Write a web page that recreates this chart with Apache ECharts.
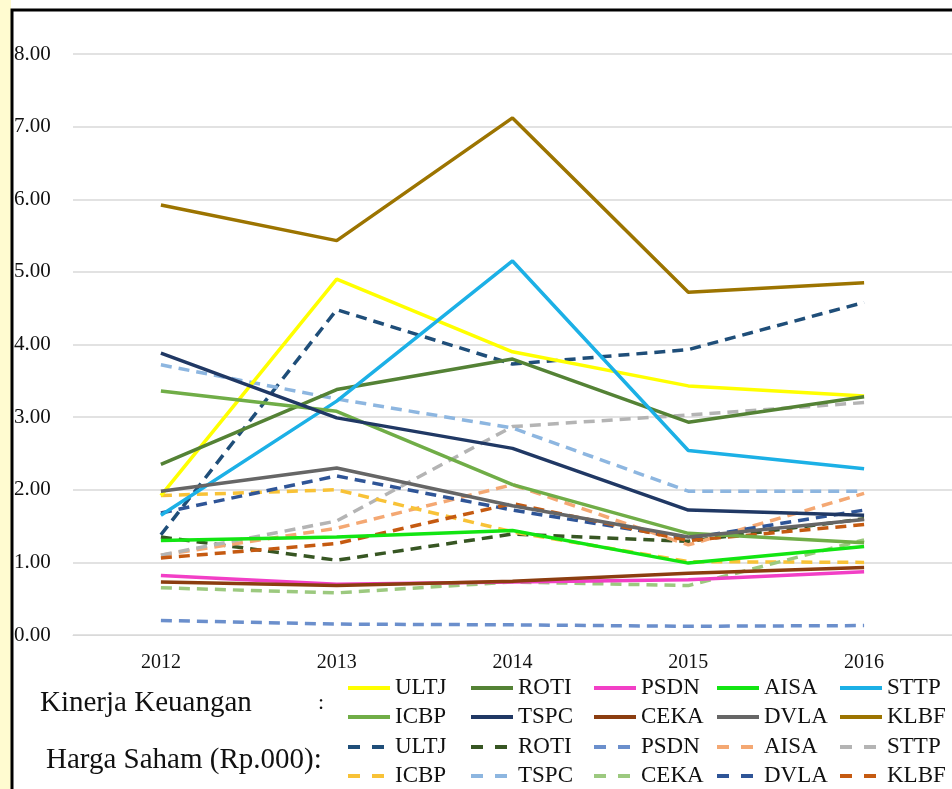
<!DOCTYPE html>
<html>
<head>
<meta charset="UTF-8">
<title>Kinerja Keuangan dan Harga Saham</title>
<script type="text/javascript" src="https://cdn.jsdelivr.net/npm/echarts@6/dist/echarts.min.js"></script>
<style>
  html, body { margin: 0; padding: 0; background: #fff; }
</style>
</head>
<body>
	<div id="box" style="width:952px;height:789px;"></div>
	<script type="text/javascript">
		// tahun
		var years = ['2012', '2013', '2014', '2015', '2016'];
		var companies = ['ULTJ', 'ROTI', 'PSDN', 'AISA', 'STTP', 'ICBP', 'TSPC', 'CEKA', 'DVLA', 'KLBF'];

		// Kinerja Keuangan (garis penuh)
		var kinerja = {
			ULTJ: [1.92, 4.90, 3.90, 3.43, 3.29],
			ROTI: [2.35, 3.38, 3.80, 2.93, 3.28],
			PSDN: [0.82, 0.70, 0.73, 0.76, 0.87],
			AISA: [1.30, 1.35, 1.44, 0.99, 1.22],
			STTP: [1.65, 3.22, 5.15, 2.54, 2.29],
			ICBP: [3.36, 3.08, 2.07, 1.40, 1.27],
			TSPC: [3.88, 2.99, 2.57, 1.72, 1.65],
			CEKA: [0.73, 0.68, 0.74, 0.85, 0.93],
			DVLA: [1.98, 2.30, 1.78, 1.35, 1.59],
			KLBF: [5.92, 5.43, 7.12, 4.72, 4.85]
		};

		// Harga Saham (Rp.000) (garis putus-putus)
		var harga = {
			ULTJ: [1.38, 4.48, 3.73, 3.93, 4.58],
			ROTI: [1.35, 1.03, 1.39, 1.29, 1.60],
			PSDN: [0.20, 0.15, 0.14, 0.12, 0.13],
			AISA: [1.10, 1.47, 2.07, 1.24, 1.95],
			STTP: [1.10, 1.57, 2.87, 3.03, 3.20],
			ICBP: [1.92, 2.00, 1.42, 1.01, 1.00],
			TSPC: [3.72, 3.25, 2.85, 1.98, 1.98],
			CEKA: [0.65, 0.58, 0.73, 0.68, 1.31],
			DVLA: [1.68, 2.19, 1.72, 1.33, 1.72],
			KLBF: [1.06, 1.26, 1.81, 1.30, 1.52]
		};

		var warnaKinerja = {
			ULTJ: '#ffff00', ROTI: '#548235', PSDN: '#f23fc6', AISA: '#12e512', STTP: '#1cb0e6',
			ICBP: '#70ad47', TSPC: '#203864', CEKA: '#8b3d10', DVLA: '#666666', KLBF: '#9c7400'
		};
		var warnaHarga = {
			ULTJ: '#1f4e79', ROTI: '#375623', PSDN: '#6b8fcc', AISA: '#f4a873', STTP: '#b4b4b4',
			ICBP: '#f8c237', TSPC: '#8db6e0', CEKA: '#9cc97f', DVLA: '#2f5597', KLBF: '#c55a11'
		};

		var serif = '"Liberation Serif", "Times New Roman", serif';

		var series = [];
		companies.forEach(function(c) {
			series.push({
				name: c + '-H',
				type: 'line',
				data: harga[c],
				symbol: 'none',
				lineStyle: { color: warnaHarga[c], width: 3.5, type: [11, 7] },
				itemStyle: { color: warnaHarga[c] }
			});
		});
		companies.forEach(function(c) {
			series.push({
				name: c,
				type: 'line',
				data: kinerja[c],
				symbol: 'none',
				lineStyle: { color: warnaKinerja[c], width: 3.5 },
				itemStyle: { color: warnaKinerja[c] }
			});
		});

		function baris(names, top, putus) {
			var ls = { width: 4 };
			if (putus) ls.type = [12, 12];
			return {
				data: names,
				left: 346,
				top: top,
				width: 640,
				padding: 0,
				orient: 'horizontal',
				itemWidth: 42,
				itemHeight: 14,
				itemGap: 0,
				selectedMode: false,
				itemStyle: { opacity: 0 },
				lineStyle: ls,
				formatter: function(n) { return n.split('-')[0]; },
				textStyle: {
					fontFamily: serif,
					fontSize: 23,
					color: '#111',
					width: 74,
					overflow: 'none',
					lineHeight: 24
				}
			};
		}

		var mychart = echarts.init(document.getElementById('box'));
		var option = {
			backgroundColor: '#fff',
			animation: false,
			grid: {
				left: 73,
				top: 54,
				width: 895,
				height: 581
			},
			xAxis: {
				type: 'category',
				data: years,
				boundaryGap: true,
				axisLine: { show: true, lineStyle: { color: '#d9d9d9', width: 1 } },
				axisTick: { show: false },
				axisLabel: { fontFamily: serif, fontSize: 20, color: '#111', margin: 18 }
			},
			yAxis: {
				type: 'value',
				min: 0,
				max: 8,
				interval: 1,
				axisLine: { show: false },
				axisTick: { show: false },
				splitLine: { lineStyle: { color: '#d9d9d9', width: 1.5 } },
				axisLabel: {
					fontFamily: serif,
					fontSize: 21,
					color: '#111',
					align: 'left',
					margin: 59,
					formatter: function(v) { return v.toFixed(2); }
				}
			},
			legend: [
				baris(['ULTJ', 'ROTI', 'PSDN', 'AISA', 'STTP'], 676, false),
				baris(['ICBP', 'TSPC', 'CEKA', 'DVLA', 'KLBF'], 705, false),
				baris(['ULTJ-H', 'ROTI-H', 'PSDN-H', 'AISA-H', 'STTP-H'], 735, true),
				baris(['ICBP-H', 'TSPC-H', 'CEKA-H', 'DVLA-H', 'KLBF-H'], 764, true)
			],
			graphic: [
				{ type: 'rect', left: 0, top: 0, shape: { x: 0, y: 0, width: 11, height: 789 },
				  style: { fill: '#fffbd0' }, silent: true, z: 100 },
				{ type: 'rect', shape: { x: 12, y: 10, width: 960, height: 800 },
				  style: { fill: 'none', stroke: '#000', lineWidth: 3 }, silent: true, z: 100 },
				{ type: 'text', x: 40, y: 703,
				  style: { text: 'Kinerja Keuangan', font: '29px ' + serif, fill: '#111', verticalAlign: 'middle' } },
				{ type: 'text', x: 318, y: 703,
				  style: { text: ':', font: '22px ' + serif, fill: '#111', verticalAlign: 'middle' } },
				{ type: 'text', x: 46, y: 760,
				  style: { text: 'Harga Saham (Rp.000):', font: '29px ' + serif, fill: '#111', verticalAlign: 'middle' } }
			],
			series: series
		};
		mychart.setOption(option);
	</script>
</body>
</html>
